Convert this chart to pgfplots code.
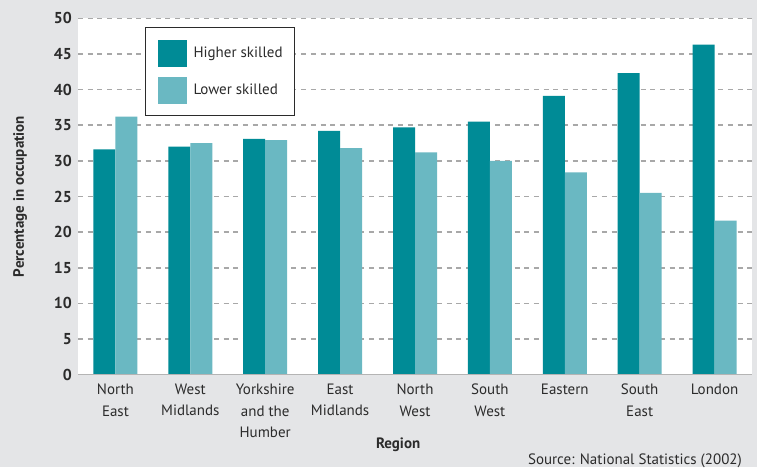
\documentclass[border=0pt]{standalone}
\usepackage{fontspec}
\setmainfont{PT Sans}
\usepackage{pgfplots}
\pgfplotsset{compat=1.18}
\definecolor{bg}{HTML}{E4E5E7}
\definecolor{hi}{HTML}{008B96}
\definecolor{lo}{HTML}{6AB8C2}
\definecolor{txt}{HTML}{2B2B2B}
\definecolor{gridc}{HTML}{A8A8A8}
\definecolor{axc}{HTML}{B4B4B4}
\newcommand\f{\fontsize{15pt}{21.5pt}\selectfont}
\newcommand\fy{\fontsize{15.8pt}{21.5pt}\selectfont}
\pgfplotsset{myleg/.style={legend image code/.code={\fill[##1] (0pt,-13.5pt) rectangle (29pt,13.5pt);}}}
\begin{document}
\begin{tikzpicture}[x=1pt,y=1pt]
\useasboundingbox (0,0) rectangle (757,467);
\fill[bg] (0,0) rectangle (757,467);
\begin{axis}[
  at={(78pt,92.3pt)}, anchor=south west,
  width=674pt, height=356.4pt, scale only axis,
  ymin=0, ymax=50, ytick={0,5,...,50},
  xmin=-0.5, xmax=8.5, xtick={0,...,8},
  xticklabels={North\\East, West\\Midlands, Yorkshire\\and the\\Humber, East\\Midlands, North\\West, South\\West, Eastern, South\\East, London},
  ybar=0pt, bar width=22pt,
  axis background/.style={fill=white},
  axis line style={draw=none},
  major tick length=0pt,
  ymajorgrids,
  grid style={gridc, dash pattern=on 5pt off 4.7pt, line width=1.5pt},
  /pgf/number format/assume math mode=true,
  yticklabel style={font=\fy\bfseries, text=txt, inner sep=0pt, xshift=-6pt},
  xticklabel style={align=center, font=\f, text=txt, inner sep=0pt, yshift=-9pt},
  xlabel={Region},
  xlabel style={font=\f\bfseries, text=txt, at={(axis description cs:0.475,-0.1762)}, anchor=north, inner sep=0pt},
  ylabel={Percentage in occupation},
  ylabel style={font=\f\bfseries, text=txt, at={(axis description cs:-0.0964,0.5)}, anchor=north, inner sep=0pt},
  legend cell align=left,
  legend style={at={(axis description cs:0.0994,0.9748)}, anchor=north west,
    draw=txt, line width=1.2pt, fill=white, inner xsep=12pt, inner ysep=12pt,
    row sep=10pt, font=\f, nodes={inner sep=0pt, text=txt},
    /tikz/every odd column/.append style={column sep=7pt}},
]
\addplot[fill=hi, draw=none, myleg] coordinates {(0,31.6) (1,32.0) (2,33.1) (3,34.2) (4,34.7) (5,35.5) (6,39.1) (7,42.3) (8,46.3)};
\addplot[fill=lo, draw=none, myleg] coordinates {(0,36.2) (1,32.5) (2,32.9) (3,31.8) (4,31.2) (5,30.0) (6,28.4) (7,25.5) (8,21.6)};
\legend{Higher skilled, Lower skilled}
\draw[axc, line width=2pt] (rel axis cs:0,0) -- (rel axis cs:1,0);
\end{axis}
\node[anchor=base east, inner sep=0pt, font=\f, text=txt] at (742,3) {Source: National Statistics (2002)};
\end{tikzpicture}
\end{document}
